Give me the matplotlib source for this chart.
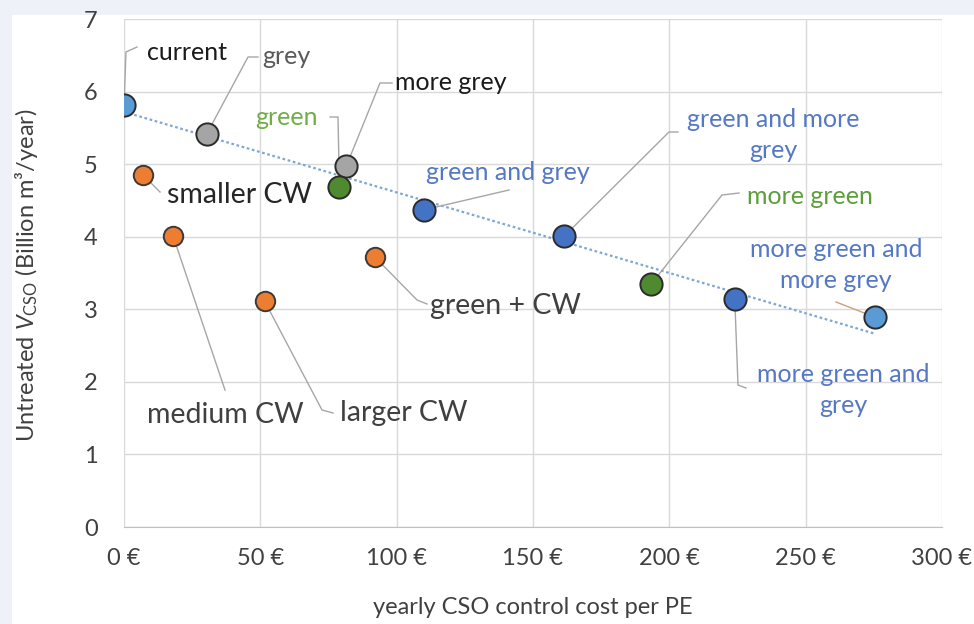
import numpy as np
import matplotlib
matplotlib.use("Agg")
import matplotlib.pyplot as plt
from matplotlib.patches import Rectangle

plt.rcParams['font.family'] = ['Lato', 'DejaVu Sans']
plt.rcParams['mathtext.fontset'] = 'custom'
plt.rcParams['mathtext.rm'] = 'Lato'
plt.rcParams['mathtext.it'] = 'Lato:italic'

# Scenario results: yearly control cost per PE (EUR) vs untreated CSO volume
scenarios = ["current", "grey", "more grey", "green", "green and grey",
             "green and more\ngrey", "more green", "more green and\ngrey",
             "more green and\nmore grey"]
cost = [0.0, 30.4, 81.6, 79.0, 110.0, 161.5, 193.4, 224.0, 275.5]
volume = [5.81, 5.42, 4.98, 4.69, 4.37, 4.01, 3.35, 3.14, 2.89]
kind = ["base", "grey", "grey", "green", "mixed", "mixed", "green", "mixed", "base"]

# Constructed-wetland variants
cw_labels = ["smaller CW", "medium CW", "larger CW", "green + CW"]
cw_cost = [7.0, 18.0, 51.6, 92.0]
cw_volume = [4.85, 4.01, 3.11, 3.72]

x_ticks = [0, 50, 100, 150, 200, 250, 300]
x_ticklabels = ["0 €", "50 €", "100 €", "150 €", "200 €", "250 €", "300 €"]
y_ticks = [0, 1, 2, 3, 4, 5, 6, 7]

fill = {"base": "#5b9bd5", "grey": "#a5a5a5", "green": "#4f8a30", "mixed": "#4472c4"}
blue_txt = "#5578c4"
label_color = {"current": "#1a1a1a", "grey": "#595959", "more grey": "#1a1a1a",
               "green": "#70ad47", "green and grey": blue_txt,
               "green and more\ngrey": blue_txt, "more green": "#5c9e3c",
               "more green and\ngrey": blue_txt, "more green and\nmore grey": blue_txt}

fig = plt.figure(figsize=(9.74, 6.24), dpi=100)
fig.patch.set_facecolor("#eef2f8")
fig.patches.append(Rectangle((12 / 974, 0), 1, (624 - 15) / 624,
                             transform=fig.transFigure, facecolor="white",
                             edgecolor="none", zorder=-10))

ax = fig.add_axes([124 / 974, 97 / 624, (942 - 124) / 974, (527 - 19) / 624])
ax.set_facecolor("white")
ax.set_xlim(0, 300)
ax.set_ylim(0, 7)
ax.set_xticks(x_ticks)
ax.set_xticklabels(x_ticklabels)
ax.set_yticks(y_ticks)
ax.grid(True, color="#d9d9d9", lw=1.0)
ax.set_axisbelow(True)
for s in ["top", "right", "left"]:
    ax.spines[s].set_visible(False)
ax.spines["bottom"].set_color("#bfbfbf")
ax.tick_params(length=0, labelsize=17, colors="#404040")
ax.tick_params(axis="x", pad=15)
ax.tick_params(axis="y", pad=19)

ax.set_xlabel("yearly CSO control cost per PE", fontsize=17, color="#404040")
ax.xaxis.label.set_va("center")
ax.xaxis.set_label_coords(0.5, -(608 - 527) / 508)
ax.set_ylabel(r"Untreated $V_{\mathrm{CSO}}$ (Billion m³/year)", fontsize=17,
              color="#404040")
ax.yaxis.label.set_va("center")
ax.yaxis.set_label_coords((27 - 124) / 818, (527 - 275) / 508)

# Linear trend through the grey/green scenarios
coef = np.polyfit(cost, volume, 1)
xs = np.array([min(cost), max(cost)])
ax.plot(xs, np.polyval(coef, xs), ls=(0, (1.2, 1.2)), color="#7fa6d6", lw=1.6, zorder=2)

for c, v, k in zip(cost, volume, kind):
    ax.plot(c, v, "o", ms=16, mfc=fill[k], mec="#2b2b2b", mew=1.4, zorder=4)
for c, v in zip(cw_cost, cw_volume):
    ax.plot(c, v, "o", ms=14, mfc="#ed7d31", mec="#3a3a3a", mew=1.4, zorder=4)


def px(x, y):
    return ((x - 124) / 818 * 300, (527 - y) / 508 * 7)


lead = dict(color="#a6a6a6", lw=1.0, zorder=3)

# label text: (text pixel x, pixel y, ha, elbow path in pixels, fontsize)
layout = {
    "current": (147, 52, "left", [(126, 52), (137, 47)], 18),
    "grey": (262, 57, "left", [(248, 57), (258, 57)], 18),
    "more grey": (395, 83, "left", [(380, 83), (392, 83)], 18),
    "green": (255, 117, "left", [(338, 117), (330, 117)], 18),
    "green and grey": (426, 173, "left", [(509, 190)], 18),
    "green and more\ngrey": (773, 135, "center", [(669, 132), (678, 132)], 18),
    "more green": (747, 197, "left", [(722, 195), (739, 193)], 18),
    "more green and\ngrey": (843, 390, "center", [(738, 385), (746, 388)], 18),
    "more green and\nmore grey": (836, 265, "center", [(836, 302)], 18),
}

for name, c, v in zip(scenarios, cost, volume):
    tx, ty, ha, path, fs = layout[name]
    pts = [(c, v)] + [px(*p) for p in path]
    col = "#c9a27e" if name == "more green and\nmore grey" else "#a6a6a6"
    ax.plot([p[0] for p in pts], [p[1] for p in pts], color=col, lw=1.0, zorder=3)
    X, Y = px(tx, ty)
    ax.text(X, Y, name, ha=ha, va="center", fontsize=fs, color=label_color[name],
            linespacing=1.45, zorder=5)

cw_layout = {
    "smaller CW": (167, 195, [(160, 192)], 20.5, "#262626"),
    "medium CW": (147, 415, [(225, 390)], 20.5, "#404040"),
    "larger CW": (340, 413, [(322, 410), (333, 413)], 20.5, "#404040"),
    "green + CW": (430, 306, [(417, 300), (427, 304)], 20.5, "#404040"),
}
for name, c, v in zip(cw_labels, cw_cost, cw_volume):
    tx, ty, path, fs, colr = cw_layout[name]
    pts = [(c, v)] + [px(*p) for p in path]
    ax.plot([p[0] for p in pts], [p[1] for p in pts], **lead)
    X, Y = px(tx, ty)
    ax.text(X, Y, name, ha="left", va="center", fontsize=fs, color=colr, zorder=5)

fig.savefig("out.png", dpi=100, facecolor=fig.get_facecolor())
